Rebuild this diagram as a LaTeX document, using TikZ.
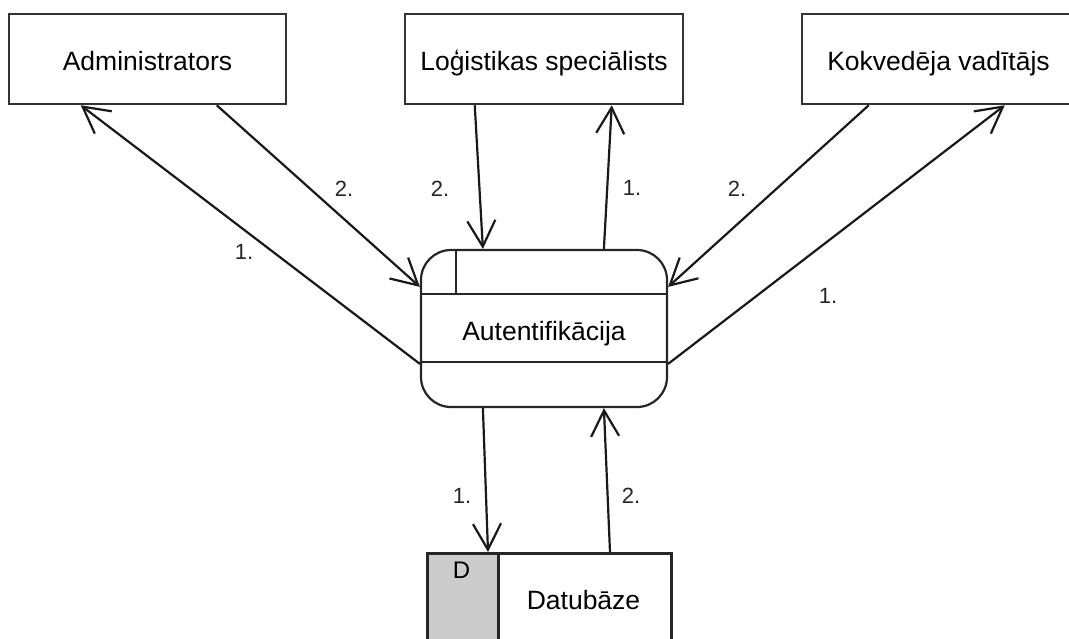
\documentclass[tikz,border=0pt]{standalone}
\usepackage{fontspec}
\setmainfont{Liberation Sans}
\usetikzlibrary{arrows.meta,calc}
\begin{document}
\begin{tikzpicture}[x=1pt,y=-1pt,
  boxtext/.style={font=\fontsize{26.5}{30}\selectfont, text height=22pt, text depth=0pt, inner sep=0pt},
  entity/.style={draw=black!80, line width=2.5pt, fill=white, minimum height=90pt, inner sep=0pt,
    font=\fontsize{26.5}{30}\selectfont, text height=22pt, text depth=0pt},
  flow/.style={line width=2.2pt, draw=black!90, -{Straight Barb[length=26pt,width=28pt,line width=2.2pt]}},
  lbl/.style={text=black!85, font=\fontsize{22}{26}\selectfont, inner sep=0pt}]

\useasboundingbox (0,0) rectangle (1069,638);

% external entities
\node[entity, minimum width=277pt] (adm) at (147.5,59) {Administrators};
\node[entity, minimum width=278pt] (log) at (544,59) {Loģistikas speciālists};
\node[entity, minimum width=273pt] (kok) at (938.5,59) {Kokvedēja vadītājs};

% process
\node[draw=black!85, line width=2.2pt, rounded corners=30pt, fill=white,
  minimum width=246pt, minimum height=157pt] (auth) at (544,328.5) {};
\draw[line width=2.2pt, black!85] ($(auth.north west)+(0,45)$) -- ($(auth.north east)+(0,45)$);
\draw[line width=2.2pt, black!85] ($(auth.north west)+(0,113)$) -- ($(auth.north east)+(0,113)$);
\draw[line width=2.2pt, black!85] ($(auth.north west)+(36,0)$) -- ($(auth.north west)+(36,45)$);
\node[boxtext] (authtxt) at (544,329) {Autentifikācija};

% data store
\node[draw=black!85, line width=2.5pt, fill=black!20, anchor=north west,
  minimum width=71pt, minimum height=110pt] (dbid) at (426,552) {};
\node[draw=black!85, line width=2.5pt, fill=white, anchor=north west,
  minimum width=173pt, minimum height=110pt] (db) at (497,552) {};
\node[font=\fontsize{24}{28}\selectfont, text height=22pt, text depth=0pt, inner sep=0pt] (dbidtxt) at (461.5,567.7) {D};
\node[boxtext] (dbtxt) at (583.5,598) {Datubāze};

% flows
\draw[flow] ($(auth.north west)+(0,115)$) -- ($(adm.south west)+(73,0)$);
\draw[flow] ($(adm.south west)+(209,0)$) -- ($(auth.north west)+(0,38)$);
\draw[flow] ($(log.south west)+(71,0)$) -- ($(auth.north west)+(63,0)$);
\draw[flow] ($(auth.north west)+(184,0)$) -- ($(log.south west)+(208,0)$);
\draw[flow] ($(kok.south west)+(68,0)$) -- ($(auth.north east)+(0,38)$);
\draw[flow] ($(auth.north east)+(0,115)$) -- ($(kok.south west)+(204,0)$);
\draw[flow] ($(auth.south west)+(63,0)$) -- ($(dbid.north west)+(62,0)$);
\draw[flow] ($(db.north west)+(113,0)$) -- ($(auth.south west)+(184,0)$);

% flow labels
\node[lbl] (l1) at (244,252) {1.};
\node[lbl] (l2) at (344,189) {2.};
\node[lbl] (l3) at (440,189) {2.};
\node[lbl] (l4) at (632,188) {1.};
\node[lbl] (l5) at (737,189) {2.};
\node[lbl] (l6) at (828,296) {1.};
\node[lbl] (l7) at (462,496) {1.};
\node[lbl] (l8) at (631,496) {2.};
\end{tikzpicture}
\end{document}
